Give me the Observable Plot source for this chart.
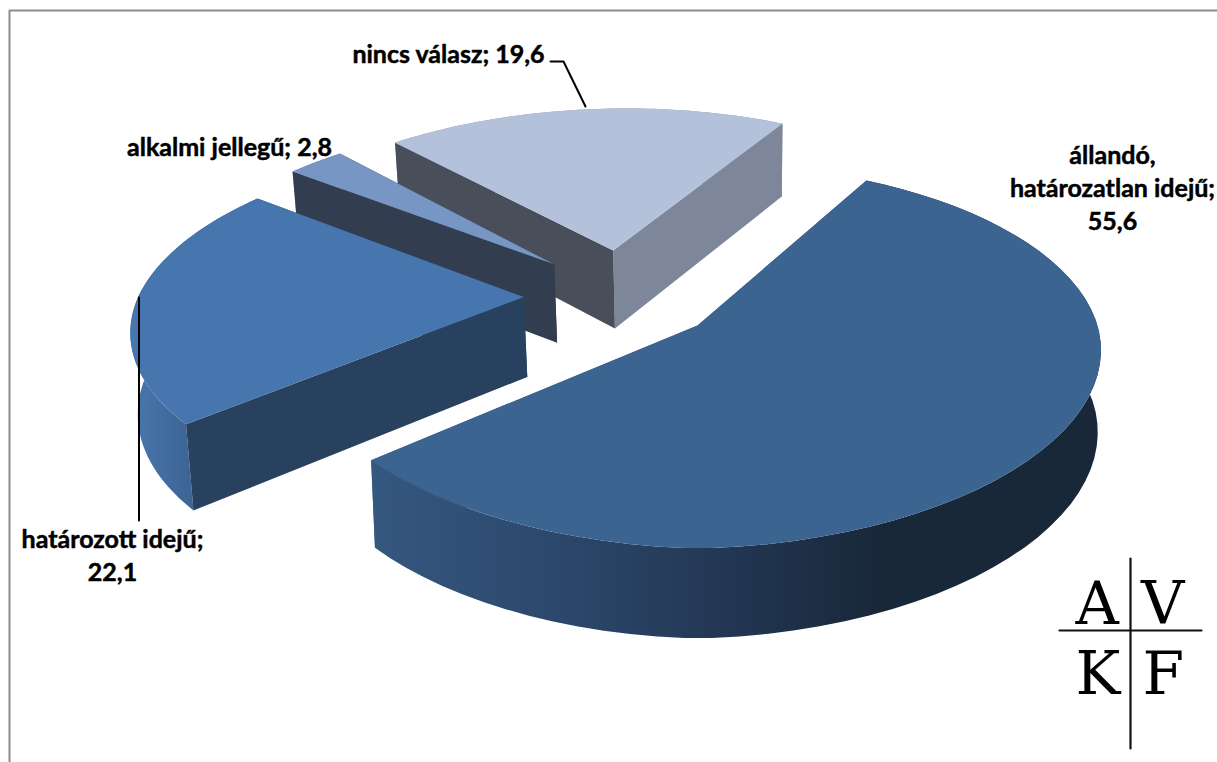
<!DOCTYPE html>
<html lang="hu">
<head>
<meta charset="utf-8">
<script src="https://cdn.jsdelivr.net/npm/d3@7"></script>
<script src="https://cdn.jsdelivr.net/npm/@observablehq/plot@0.6"></script>
<style>
html,body{margin:0;padding:0;background:#fff;overflow:hidden}
svg{display:block}
.logo text{letter-spacing:1.5px}
</style>
</head>
<body>
<div id="chart"></div>
<script>
// ---- data ----
const categories = ["állandó, határozatlan idejű", "határozott idejű", "alkalmi jellegű", "nincs válasz"];
const values = [55.6, 22.1, 2.8, 19.6];
const labelTexts = ["állandó,\nhatározatlan idejű;\n55,6", "határozott idejű;\n22,1", "alkalmi jellegű; 2,8", "nincs válasz; 19,6"];
const logoText = ["A V\nK F"];

// ---- styling ----
const topColors = ["#3c6491", "#4775ae", "#7896c3", "#b3c1db"];
const wallStartColors = ["#3c6491", "#28415f", "#333d50", "#484f5a"];
const wallEndColors = ["#3c6491", "#28415f", "#333d50", "#7e8699"];
const bandColors = ["url(#bandMain)", "url(#bandTerm)", "#7896c3", "#8a93a8"];

// ---- 3-D pie projection (ground plane -> page) ----
const START = 28.3 * Math.PI / 180, K = 0.1706, RX = 400, RY = 185;
const APEX0 = {x: 697, y: 325};
const EXPLODE = {x: 0.25, y: 0.27};
const project = (X, Y, low = false) => {
  const w = 1 + K * Y;
  let x = APEX0.x + RX * X / w, y = APEX0.y - RY * Y / w;
  if (low) { x += (700 - x) * (x < 700 ? 0.02 : 0.008); y += 68 + 0.04 * y; }
  return {x, y};
};
// the lens of the original stretches the back of the rim and pulls in its front-left
const rimScale = (t, low) => {
  const s = Math.sin(t), c = Math.cos(t);
  return 1 + 0.032 * Math.max(0, c) - 0.04 * Math.max(0, -c) * Math.abs(s) - (low ? 0 : 0.01) * Math.max(0, -s);
};
const arcs = d3.pie().sort(null).startAngle(START).endAngle(START + 2 * Math.PI)(values);
const mid = a => (a.startAngle + a.endAngle) / 2;
const origin = {X: -EXPLODE.x * Math.sin(mid(arcs[0])), Y: -EXPLODE.y * Math.cos(mid(arcs[0]))};

const polys = (i) => {
  const a = arcs[i];
  const cX = origin.X + EXPLODE.x * Math.sin(mid(a)), cY = origin.Y + EXPLODE.y * Math.cos(mid(a));
  const angles = d3.range(0, 61).map(t => a.startAngle + (a.endAngle - a.startAngle) * t / 60);
  const rim = low => angles.map(t => {
    const f = rimScale(t, low);
    return project(cX + f * Math.sin(t), cY + f * Math.cos(t), low);
  });
  const c = low => project(cX, cY, low);
  const top = rim(false), bot = rim(true);
  const band = {pts: [...top, ...bot.slice().reverse()], fill: bandColors[i]};
  const wallEnd = {pts: [top[60], bot[60], c(true), c(false)], fill: wallEndColors[i]};
  const wallStart = {pts: [top[0], bot[0], c(true), c(false)], fill: wallStartColors[i]};
  const face = {pts: [c(false), ...top], fill: topColors[i]};
  // the big slice's walls face away and hide behind its rim band
  return i === 0 ? [wallEnd, wallStart, band, face] : [band, wallEnd, wallStart, face];
};
const drawOrder = [3, 2, 1, 0];
const shapes = drawOrder.flatMap(polys);

// ---- annotation layout ----
const labelPos = [{x: 1112, y: 186}, {x: 112, y: 553}, {x: 229, y: 145}, {x: 448, y: 52}];
const leaders = [
  [{x: 550, y: 61}, {x: 563, y: 61}, {x: 585, y: 106}],
  [{x: 138.5, y: 297}, {x: 138.5, y: 520}]
];
const logoPos = [{x: 1075, y: 636}];
const logoCross = [
  [{x: 1059, y: 630}, {x: 1201, y: 630}],
  [{x: 1130, y: 558}, {x: 1130, y: 748}]
];
const frame = [{x: 9, y: 762}, {x: 9, y: 10}, {x: 1217, y: 10}];

const gradient = (id, x1, x2, stops) => {
  const ns = "http://www.w3.org/2000/svg";
  const g = document.createElementNS(ns, "linearGradient");
  g.setAttribute("id", id);
  g.setAttribute("gradientUnits", "userSpaceOnUse");
  g.setAttribute("x1", x1); g.setAttribute("x2", x2);
  g.setAttribute("y1", 0); g.setAttribute("y2", 0);
  stops.forEach(([o, col]) => {
    const s = document.createElementNS(ns, "stop");
    s.setAttribute("offset", o); s.setAttribute("stop-color", col);
    g.appendChild(s);
  });
  return g;
};
const defs = () => {
  const d = document.createElementNS("http://www.w3.org/2000/svg", "defs");
  d.appendChild(gradient("bandMain", 371, 880, [[0, "#35587f"], [0.4, "#2b4669"], [0.75, "#21344f"], [1, "#182839"]]));
  d.appendChild(gradient("bandTerm", 131, 197, [[0, "#4876ad"], [1, "#3b6392"]]));
  return d;
};

const chart = Plot.plot({
  width: 1217, height: 762,
  margin: 0,
  x: {domain: [0, 1217], range: [0, 1217], axis: null},
  y: {domain: [0, 762], range: [0, 762], axis: null},
  style: {background: "#fff"},
  marks: [
    defs,
    Plot.line(frame, {x: "x", y: "y", stroke: "#8c8c8c", strokeWidth: 2}),
    ...shapes.map(s => Plot.line(s.pts, {x: "x", y: "y", fill: s.fill, stroke: "none"})),
    ...leaders.map(l => Plot.line(l, {x: "x", y: "y", stroke: "#000", strokeWidth: 2})),
    Plot.text(labelTexts.map((t, i) => ({t, ...labelPos[i]})), {
      x: "x", y: "y", text: "t", fontFamily: "Lato", fontWeight: 700, fontSize: 25, lineHeight: 1.32,
      fill: "#000", stroke: "#000", strokeWidth: 0.5, paintOrder: "normal", textAnchor: "middle"
    }),
    ...logoCross.map(l => Plot.line(l, {x: "x", y: "y", stroke: "#111", strokeWidth: 2.2})),
    Plot.text(logoText.map((t, i) => ({t, ...logoPos[i]})), {
      x: "x", y: "y", text: "t", fontFamily: "DejaVu Serif", fontSize: 60, lineHeight: 1.17,
      fill: "#000", stroke: "none", textAnchor: "start", className: "logo"
    })
  ]
});
document.getElementById("chart").appendChild(chart);
</script>
</body>
</html>
